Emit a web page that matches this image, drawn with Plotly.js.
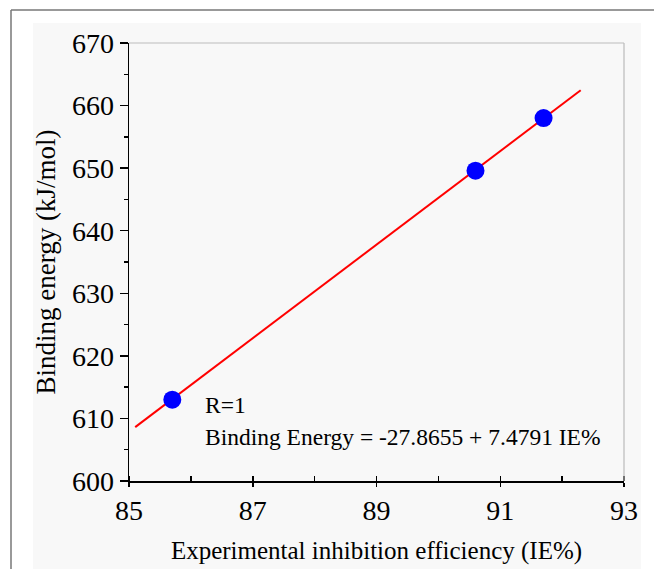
<!DOCTYPE html>
<html>
<head>
<meta charset="utf-8">
<script src="https://cdn.plot.ly/plotly-3.0.1.min.js"></script>
<style>html,body{margin:0;padding:0;background:#fff;}#chart{width:654px;height:569px;}</style>
</head>
<body>
<div id="chart"></div>
<script>
// Data
const ieValues = [85.7, 90.6, 91.7];          // Experimental inhibition efficiency (IE%)
const bindingEnergy = [613.0, 649.6, 658.0];   // Binding energy (kJ/mol)
const fitX = [85.1, 92.3];                     // extent of the fitted line
const fitIntercept = -27.8655;
const fitSlope = 7.4791;
const fitY = fitX.map(x => fitIntercept + fitSlope * x);
const xTicks = [85, 87, 89, 91, 93];
const yTicks = [600, 610, 620, 630, 640, 650, 660, 670];

const W = 654, H = 569;
const L = 129, R = 30, T = 43, B = 88;
const pw = W - L - R, ph = H - T - B;
const px = v => (v - L) / pw;
const py = v => (H - B - v) / ph;

const font = 'Liberation Serif, Times New Roman, serif';

const traces = [
  {x: fitX, y: fitY, mode: 'lines', line: {color: '#ff0000', width: 2}, hoverinfo: 'skip', showlegend: false},
  {x: ieValues, y: bindingEnergy, mode: 'markers', marker: {color: '#0000ff', size: 18}, showlegend: false}
];

const layout = {
  width: W, height: H,
  margin: {l: L, r: R, t: T, b: B},
  paper_bgcolor: '#ffffff',
  plot_bgcolor: 'rgba(0,0,0,0)',
  font: {family: font, color: '#000'},
  showlegend: false,
  xaxis: {
    range: [85, 93], tickvals: xTicks, ticktext: xTicks.map(String),
    showgrid: false, zeroline: false, showline: true, linecolor: '#000', linewidth: 1.5,
    ticks: 'outside', ticklen: 4, tickwidth: 1.5, tickcolor: '#000',
    minor: {dtick: 1, ticks: 'inside', ticklen: 5, tickwidth: 1.5, tickcolor: '#000', showgrid: false},
    tickfont: {size: 28, family: font},
    title: {text: 'Experimental inhibition efficiency (IE%)', font: {size: 25, family: font}, standoff: 16}
  },
  yaxis: {
    range: [600, 670], tickvals: yTicks, ticktext: yTicks.map(String),
    showgrid: false, zeroline: false, showline: true, linecolor: '#000', linewidth: 1.5,
    ticks: 'outside', ticklen: 8, tickwidth: 1.5, tickcolor: '#000',
    minor: {dtick: 5, ticks: 'outside', ticklen: 4, tickwidth: 1.5, tickcolor: '#000', showgrid: false},
    tickfont: {size: 28, family: font},
    title: {text: 'Binding energy (kJ/mol)', font: {size: 27, family: font}, standoff: 8}
  },
  shapes: [
    {type: 'rect', xref: 'paper', yref: 'paper', x0: px(33), x1: px(641), y0: py(569), y1: py(23),
     fillcolor: '#f8f8f8', line: {width: 0}, layer: 'below'},
    {type: 'line', xref: 'paper', yref: 'paper', x0: px(11), x1: px(654), y0: py(10), y1: py(10),
     line: {color: '#777', width: 1.5}},
    {type: 'line', xref: 'paper', yref: 'paper', x0: px(11), x1: px(11), y0: py(10), y1: py(569),
     line: {color: '#777', width: 1.5}},
    {type: 'line', xref: 'paper', yref: 'paper', x0: 0, x1: 1, y0: 1, y1: 1,
     line: {color: '#bbbbbb', width: 1.2}},
    {type: 'line', xref: 'paper', yref: 'paper', x0: 1, x1: 1, y0: 0, y1: 1,
     line: {color: '#bbbbbb', width: 1.2}}
  ],
  annotations: [
    {xref: 'paper', yref: 'paper', x: px(203), y: py(405), xanchor: 'left', yanchor: 'middle',
     text: 'R=1', showarrow: false, font: {size: 23.5, family: font, color: '#000'}},
    {xref: 'paper', yref: 'paper', x: px(203), y: py(437), xanchor: 'left', yanchor: 'middle',
     text: 'Binding Energy = -27.8655 + 7.4791 IE%', showarrow: false, font: {size: 23.5, family: font, color: '#000'}}
  ]
};

Plotly.newPlot('chart', traces, layout, {displayModeBar: false, staticPlot: true});
</script>
</body>
</html>
